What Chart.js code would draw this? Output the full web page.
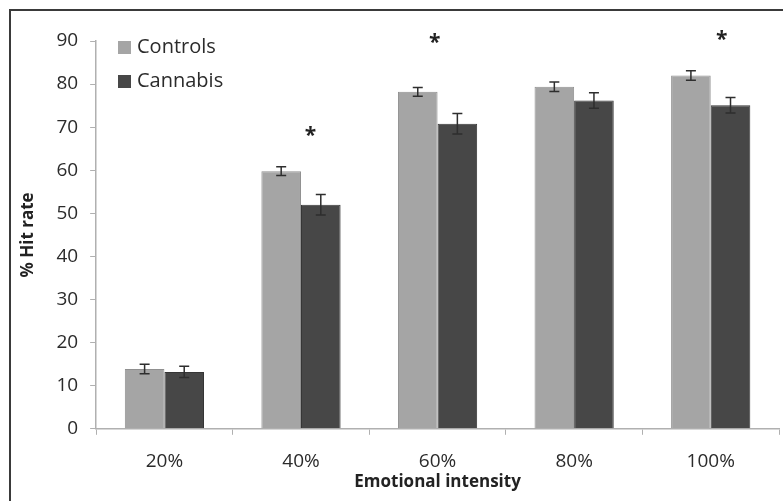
<!DOCTYPE html>
<html>
<head>
<meta charset="utf-8">
<script src="https://cdn.jsdelivr.net/npm/chart.js@4.4.1/dist/chart.umd.min.js"></script>
<style>
    html, body { margin: 0; padding: 0; background: #fff; overflow: hidden; }
    #wrap { position: relative; width: 783px; height: 501px; }
    #frame { position: absolute; left: 9px; top: 9px; width: 900px; height: 700px; border: 2px solid #3a3a3a; box-sizing: border-box; }
    #chart-box { position: absolute; left: 0; top: 0; width: 783px; height: 501px; }
</style>
</head>
<body>
<div id="wrap">
    <div id="frame"></div>
    <div id="chart-box"><canvas id="hit-chart"></canvas></div>
</div>
<script>
const categories = ['20%', '40%', '60%', '80%', '100%'];
const controls = [13.9, 59.8, 78.2, 79.4, 82.0];
const controlsErr = [1.1, 1.0, 1.0, 1.1, 1.1];
const cannabis = [13.2, 52.0, 70.8, 76.2, 75.1];
const cannabisErr = [1.3, 2.4, 2.4, 1.8, 1.8];
// significance markers: position in category units + value
const starX = [1.07, 1.98, 4.08];
const starY = [69.0, 90.7, 91.4];

const errors = [controlsErr, cannabisErr];
const textColor = '#2b2b2b';

const errorBarsPlugin = {
    id: 'errorBars',
    afterDatasetsDraw(chart) {
        const { ctx, scales: { y } } = chart;
        ctx.save();
        ctx.strokeStyle = '#2e2e2e';
        ctx.lineWidth = 1.5;
        chart.data.datasets.forEach((ds, i) => {
            const meta = chart.getDatasetMeta(i);
            meta.data.forEach((bar, j) => {
                const v = ds.data[j];
                const e = errors[i][j];
                const top = y.getPixelForValue(v + e);
                const bottom = y.getPixelForValue(v - e);
                ctx.beginPath();
                ctx.moveTo(bar.x, top);
                ctx.lineTo(bar.x, bottom);
                ctx.moveTo(bar.x - 5, top);
                ctx.lineTo(bar.x + 5, top);
                ctx.moveTo(bar.x - 5, bottom);
                ctx.lineTo(bar.x + 5, bottom);
                ctx.stroke();
            });
        });
        ctx.restore();
    }
};

const extrasPlugin = {
    id: 'extras',
    afterDraw(chart) {
        const { ctx, scales: { x, y } } = chart;
        ctx.save();
        // asterisks
        ctx.fillStyle = '#222';
        ctx.font = 'bold 21px "Open Sans"';
        ctx.textAlign = 'center';
        ctx.textBaseline = 'middle';
        starX.forEach((sx, i) => {
            ctx.fillText('*', x.getPixelForValue(sx), y.getPixelForValue(starY[i]) + 5);
        });
        // legend inside plot
        ctx.font = '20px "Open Sans"';
        ctx.textAlign = 'left';
        chart.data.datasets.forEach((ds, i) => {
            const ly = 47 + i * 34;
            ctx.fillStyle = ds.backgroundColor;
            ctx.fillRect(118, ly - 6, 13, 13);
            ctx.fillStyle = textColor;
            ctx.fillText(ds.label, 137, ly);
        });
        ctx.restore();
    }
};

new Chart(document.getElementById('hit-chart').getContext('2d'), {
    type: 'bar',
    data: {
        labels: categories,
        datasets: [
            {
                label: 'Controls',
                data: controls,
                backgroundColor: '#a5a5a5',
                borderColor: '#909090',
                borderWidth: 1,
                categoryPercentage: 0.58,
                barPercentage: 1
            },
            {
                label: 'Cannabis',
                data: cannabis,
                backgroundColor: '#474747',
                borderColor: '#363636',
                borderWidth: 1,
                categoryPercentage: 0.58,
                barPercentage: 1
            }
        ]
    },
    options: {
        responsive: true,
        maintainAspectRatio: false,
        animation: false,
        layout: {
            padding: { left: 18, top: 41, right: 4, bottom: 9 }
        },
        plugins: {
            legend: { display: false },
            tooltip: { enabled: false }
        },
        scales: {
            x: {
                grid: {
                    display: true,
                    drawOnChartArea: false,
                    tickLength: 6,
                    color: '#b0b0b0',
                    offset: true
                },
                border: { color: '#b0b0b0', width: 1.5 },
                ticks: {
                    color: textColor,
                    font: { family: 'Open Sans', size: 19 },
                    padding: 15
                },
                title: {
                    display: true,
                    text: 'Emotional intensity',
                    color: '#222',
                    font: { family: 'Open Sans', size: 17, weight: 'bold' },
                    padding: { top: -16, bottom: 0 }
                }
            },
            y: {
                min: 0,
                max: 90,
                ticks: {
                    stepSize: 10,
                    color: textColor,
                    font: { family: 'Open Sans', size: 19 },
                    padding: 12
                },
                grid: {
                    display: true,
                    drawOnChartArea: false,
                    tickLength: 6,
                    color: '#b0b0b0'
                },
                border: { color: '#b0b0b0', width: 1.5 },
                title: {
                    display: true,
                    text: '% Hit rate',
                    color: '#222',
                    font: { family: 'Open Sans', size: 17, weight: 'bold' },
                    padding: { top: 0, bottom: 6 }
                }
            }
        }
    },
    plugins: [errorBarsPlugin, extrasPlugin]
});
</script>
</body>
</html>
